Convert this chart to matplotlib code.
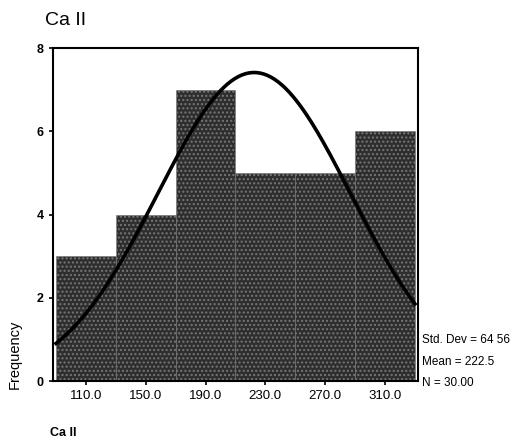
import numpy as np
import matplotlib
matplotlib.use("Agg")
import matplotlib.pyplot as plt

# histogram data (SPSS style)
bin_centers = [110.0, 150.0, 190.0, 230.0, 270.0, 310.0]
counts = [3, 4, 7, 5, 5, 6]
bin_width = 40.0
tick_labels = ["110.0", "150.0", "190.0", "230.0", "270.0", "310.0"]

std_dev = 64.56
mean = 222.5
n_obs = 30

plt.rcParams['font.family'] = ['Liberation Sans', 'DejaVu Sans']

fig = plt.figure(figsize=(5.27, 4.46), dpi=100)
ax = fig.add_axes([0.1006, 0.1457, 0.6924, 0.7463])

ax.bar(bin_centers, counts, width=bin_width, color="#2e2e2e",
       edgecolor="#777777", hatch="....", linewidth=0.4, zorder=2)

# fitted normal curve from the shown stats
xs = np.linspace(90, 330, 200)
ys = n_obs * bin_width / (std_dev * np.sqrt(2 * np.pi)) * np.exp(-0.5 * ((xs - mean) / std_dev) ** 2)
ax.plot(xs, ys, color="black", linewidth=2.6, zorder=3)

ax.set_xlim(88, 332)
ax.set_ylim(0, 8)
ax.set_xticks(bin_centers)
ax.set_xticklabels(tick_labels, fontsize=9.5)
ax.set_yticks([0, 2, 4, 6, 8])
ax.set_yticklabels(["0", "2", "4", "6", "8"], fontsize=9, fontweight="bold")
ax.tick_params(direction="out", length=3, width=1.2)
for s in ax.spines.values():
    s.set_linewidth(1.5)

ax.set_ylabel("Frequency", fontsize=10.5)
ax.yaxis.set_label_coords(-0.085, 0.08)

fig.text(0.085, 0.955, "Ca II", fontsize=14, va="center", ha="left")
fig.text(0.095, 0.03, "Ca II", fontsize=9, fontweight="bold", va="center", ha="left")

fig.text(0.80, 0.238, "Std. Dev = " + f"{std_dev:.2f}".replace(".", " "), fontsize=8.5, va="center")
fig.text(0.80, 0.188, "Mean = " + f"{mean:.1f}", fontsize=8.5, va="center")
fig.text(0.80, 0.141, "N = " + f"{n_obs:.2f}", fontsize=8.5, va="center")

fig.savefig("out.png", dpi=100)
